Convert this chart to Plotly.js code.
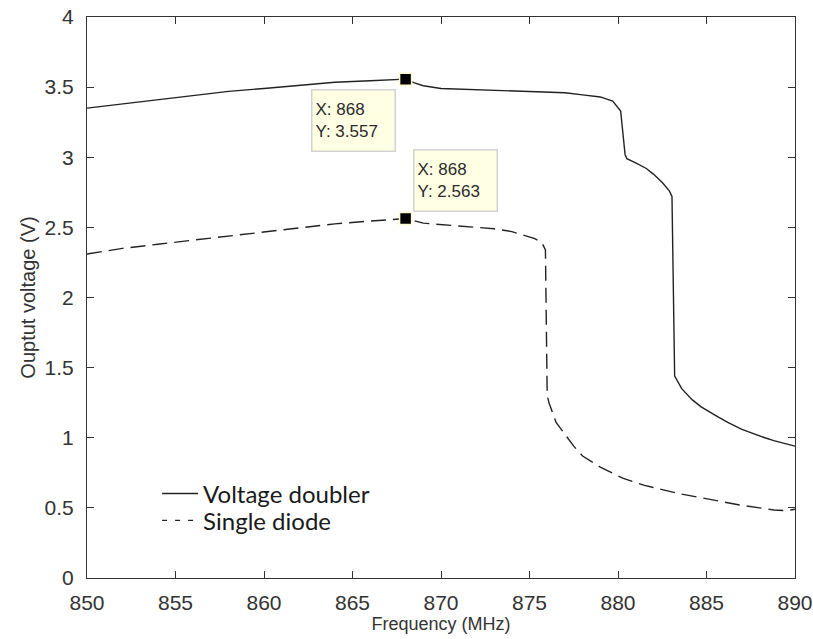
<!DOCTYPE html>
<html>
<head>
<meta charset="utf-8">
<script src="https://cdn.plot.ly/plotly-3.0.1.min.js"></script>
<style>html,body{margin:0;padding:0;background:#fff;}#chart{width:813px;height:639px;}</style>
</head>
<body>
<div id="chart"></div>
<script>
// Voltage doubler (solid)
const freqDoubler = [850, 852, 854, 856, 858, 860, 862, 864, 866, 867, 868, 868.5, 869, 870, 872, 874, 876, 877, 878, 879, 879.7, 880.15, 880.4, 880.5, 881, 881.6, 882, 882.5, 882.9, 883.05, 883.2, 883.6, 884.2, 884.7, 885.5, 886.2, 887.0, 887.6, 888.3, 888.8, 889.4, 890];
const voltDoubler = [3.35, 3.38, 3.41, 3.44, 3.47, 3.49, 3.515, 3.535, 3.545, 3.55, 3.557, 3.53, 3.51, 3.49, 3.48, 3.47, 3.465, 3.46, 3.445, 3.43, 3.40, 3.33, 3.02, 2.99, 2.96, 2.92, 2.88, 2.82, 2.76, 2.72, 1.44, 1.35, 1.27, 1.22, 1.16, 1.11, 1.06, 1.03, 1.00, 0.98, 0.96, 0.94];

// Single diode (dashed)
const freqSingle = [850, 852, 854, 856, 858, 860, 862, 864, 866, 867, 868, 869, 870, 872, 873, 874, 874.5, 875.3, 875.7, 875.9, 876.0, 876.1, 876.5, 877.1, 877.5, 878.0, 879.0, 880.3, 881.5, 882.5, 883.5, 884.8, 886, 886.9, 888, 888.8, 889.5, 890];
const voltSingle = [2.31, 2.35, 2.38, 2.41, 2.44, 2.47, 2.50, 2.525, 2.545, 2.555, 2.563, 2.53, 2.52, 2.50, 2.49, 2.47, 2.45, 2.42, 2.39, 2.34, 1.30, 1.25, 1.11, 1.01, 0.94, 0.87, 0.79, 0.71, 0.66, 0.63, 0.60, 0.57, 0.54, 0.52, 0.50, 0.485, 0.48, 0.49];

// Data tips
const tipX = [868, 868];
const tipY = [3.557, 2.563];

const seriesNames = ['Voltage doubler', 'Single diode'];

const xTicks = [850, 855, 860, 865, 870, 875, 880, 885, 890];
const yTicks = [0, 0.5, 1, 1.5, 2, 2.5, 3, 3.5, 4];
const yTickText = ['0', '0.5', '1', '1.5', '2', '2.5', '3', '3.5', '4'];

const lineColor = '#222222';

const traces = [
  {x: freqDoubler, y: voltDoubler, type: 'scatter', mode: 'lines', name: seriesNames[0], legend: 'legend',
   line: {color: lineColor, width: 1.4, dash: 'solid'}},
  {x: freqSingle, y: voltSingle, type: 'scatter', mode: 'lines', name: seriesNames[1], showlegend: false,
   line: {color: lineColor, width: 1.4, dash: '15px,7px'}},
  // legend entry for the dashed series (short-dash sample as in the reference legend)
  {x: [null], y: [null], type: 'scatter', mode: 'lines', name: seriesNames[1], legend: 'legend2',
   line: {color: lineColor, width: 1.4, dash: '5px,8px'}},
  {x: tipX, y: tipY, type: 'scatter', mode: 'markers', showlegend: false, hoverinfo: 'skip',
   marker: {symbol: 'square', size: 12, color: '#000', line: {color: '#fffbd0', width: 1.5}}}
];

const axisFont = {family: 'Arial, "Liberation Sans", sans-serif', size: 21, color: '#333'};

const tipStyle = {
  showarrow: true, arrowcolor: 'rgba(0,0,0,0)', arrowwidth: 0.1, arrowhead: 0,
  bgcolor: '#ffffe4', bordercolor: '#d2d2d2', borderwidth: 1.5, borderpad: 3,
  width: 76, height: 54, align: 'left', valign: 'middle',
  font: {family: 'Arial, "Liberation Sans", sans-serif', size: 17, color: '#2a2a2a'}
};

const annotations = [
  Object.assign({}, tipStyle, {x: tipX[0], y: tipY[0], xref: 'x', yref: 'y', ax: -52, ay: 41,
    text: 'X: ' + tipX[0] + '<br>Y: ' + tipY[0].toFixed(3)}),
  Object.assign({}, tipStyle, {x: tipX[1], y: tipY[1], xref: 'x', yref: 'y', ax: 50, ay: -38,
    text: 'X: ' + tipX[1] + '<br>Y: ' + tipY[1].toFixed(3)})
];

const legendFont = {family: 'Lato, "Open Sans", sans-serif', size: 24, color: '#1a1a1a'};
const legendBase = {xanchor: 'left', yanchor: 'middle', bgcolor: 'rgba(255,255,255,0)',
  borderwidth: 0, itemwidth: 36, font: legendFont};

const layout = {
  width: 813, height: 639,
  margin: {l: 87, r: 18, t: 17, b: 61, pad: 0},
  paper_bgcolor: '#ffffff', plot_bgcolor: '#ffffff',
  showlegend: true,
  legend: Object.assign({}, legendBase, {x: 0.099, y: 0.150}),
  legend2: Object.assign({}, legendBase, {x: 0.099, y: 0.102}),
  xaxis: {
    range: [850, 890], tickmode: 'array', tickvals: xTicks, ticktext: xTicks.map(String),
    ticks: 'inside', ticklen: 7, tickcolor: '#333', tickwidth: 1, ticklabelstandoff: 6,
    showline: true, linecolor: '#333', linewidth: 1, mirror: 'allticks',
    showgrid: false, zeroline: false, tickfont: axisFont,
    title: {text: 'Frequency (MHz)', font: {family: 'Arial, "Liberation Sans", sans-serif', size: 18, color: '#333'}, standoff: 4}
  },
  yaxis: {
    range: [0, 4], tickmode: 'array', tickvals: yTicks, ticktext: yTickText,
    ticks: 'inside', ticklen: 7, tickcolor: '#333', tickwidth: 1, ticklabelstandoff: 8,
    showline: true, linecolor: '#333', linewidth: 1, mirror: 'allticks',
    showgrid: false, zeroline: false, tickfont: axisFont,
    title: {text: 'Ouptut voltage (V)', font: {family: 'Arial, "Liberation Sans", sans-serif', size: 20, color: '#333'}, standoff: 3}
  },
  annotations: annotations
};

Plotly.newPlot('chart', traces, layout, {staticPlot: true, displayModeBar: false});
</script>
</body>
</html>
